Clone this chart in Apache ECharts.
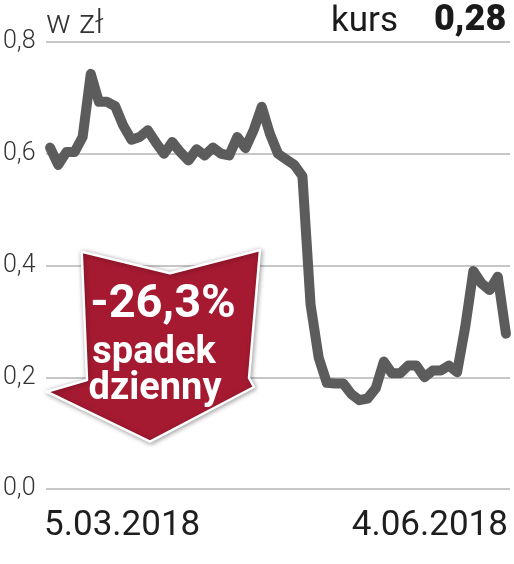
<!DOCTYPE html>
<html>
<head>
<meta charset="utf-8">
<script src="https://cdn.jsdelivr.net/npm/echarts@6/dist/echarts.min.js"></script>
<style>
html,body{margin:0;padding:0;background:#fff;}
#chart{width:514px;height:564px;}
</style>
</head>
<body>
<div id="chart"></div>
<script>
// ---- data ----
const dateLabels = ['5.03.2018', '4.06.2018'];
const prices = [
  0.611, 0.580, 0.603, 0.603, 0.630, 0.743, 0.693, 0.693, 0.685, 0.650,
  0.625, 0.630, 0.642, 0.620, 0.600, 0.621, 0.603, 0.588, 0.608, 0.597,
  0.611, 0.600, 0.597, 0.630, 0.610, 0.642, 0.684, 0.636, 0.600, 0.590,
  0.580, 0.560, 0.330, 0.235, 0.190, 0.189, 0.189, 0.170, 0.159, 0.162,
  0.180, 0.228, 0.207, 0.207, 0.221, 0.221, 0.200, 0.212, 0.212, 0.221,
  0.209, 0.290, 0.390, 0.368, 0.356, 0.380, 0.278
];
const categories = prices.map((_, i) => i);
const yTicks = [0, 0.2, 0.4, 0.6, 0.8];
const unitLabel = 'w zł';
const kursLabel = 'kurs';
const kursValue = '0,28';
const changeText = '-26,3%';
const changeLine2 = 'spadek';
const changeLine3 = 'dzienny';

const chart = echarts.init(document.getElementById('chart'), null, {renderer: 'canvas'});
const last = prices.length - 1;
const FONT = 'Roboto, "Noto Sans", sans-serif';

chart.setOption({
  animation: false,
  backgroundColor: '#ffffff',
  grid: {left: 45, right: 4, top: 42, bottom: 75, containLabel: false},
  xAxis: {
    type: 'category',
    data: categories,
    boundaryGap: true,
    axisLine: {show: false},
    axisTick: {show: false},
    splitLine: {show: false},
    axisLabel: {
      interval: 0,
      margin: 20,
      color: '#1e1e1e',
      fontFamily: FONT,
      fontSize: 35,
      padding: [0, -2, 0, -6],
      alignMinLabel: 'left',
      alignMaxLabel: 'right',
      formatter: (v, i) => i === 0 ? dateLabels[0] : (i === last ? dateLabels[1] : '')
    }
  },
  yAxis: {
    type: 'value',
    min: yTicks[0],
    max: yTicks[yTicks.length - 1],
    interval: 0.2,
    axisLine: {show: false},
    axisTick: {show: false},
    splitLine: {lineStyle: {color: '#b4b4b4', width: 1.5}},
    axisLabel: {
      align: 'left',
      margin: 43,
      color: '#333',
      fontFamily: FONT,
      fontWeight: 300,
      fontSize: 25,
      formatter: v => v.toFixed(1).replace('.', ',')
    }
  },
  series: [{
    type: 'line',
    data: prices,
    symbol: 'none',
    smooth: false,
    lineStyle: {color: '#5c5c5c', width: 10, cap: 'round', join: 'round'},
    z: 3
  }],
  graphic: [
    {type: 'text', left: 46, top: 8, z: 10,
     style: {text: unitLabel, fontFamily: FONT, fontWeight: 300, fontSize: 33, fill: '#333'}},
    {type: 'text', left: 331, top: 5, z: 10,
     style: {text: kursLabel, fontFamily: FONT, fontWeight: 400, fontSize: 35, fill: '#1a1a1a'}},
    {type: 'text', left: 434, top: 3, z: 10,
     style: {text: kursValue, fontFamily: FONT, fontWeight: 900, fontSize: 36, fill: '#1a1a1a'}},
    {type: 'polygon', z: 20,
     shape: {points: [[81.7, 251.7], [170, 273.3], [260, 250], [249, 378], [254, 387], [150, 441.7], [46.7, 391.7], [87, 380]]},
     style: {fill: '#a51a31', stroke: '#ffffff', lineWidth: 2.5, lineJoin: 'round',
             shadowBlur: 5, shadowColor: 'rgba(0,0,0,0.35)', shadowOffsetX: 1, shadowOffsetY: 1}},
    {type: 'text', x: 163, y: 305, z: 21,
     style: {text: changeText, fontFamily: FONT, fontWeight: 700, fontSize: 47, fill: '#fff', align: 'center', verticalAlign: 'middle'}},
    {type: 'text', x: 154, y: 353, z: 21,
     style: {text: changeLine2, fontFamily: FONT, fontWeight: 700, fontSize: 38, fill: '#fff', align: 'center', verticalAlign: 'middle'}},
    {type: 'text', x: 155, y: 389, z: 21,
     style: {text: changeLine3, fontFamily: FONT, fontWeight: 700, fontSize: 38, fill: '#fff', align: 'center', verticalAlign: 'middle'}}
  ]
});
</script>
</body>
</html>
